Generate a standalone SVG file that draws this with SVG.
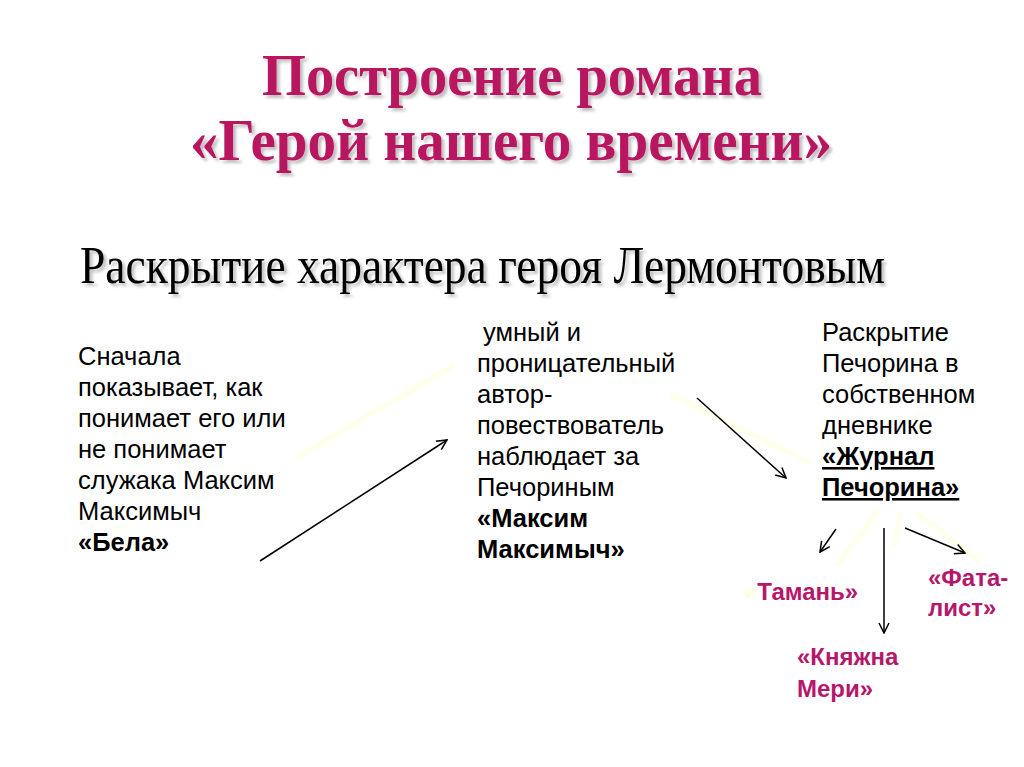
<svg xmlns="http://www.w3.org/2000/svg" width="1024" height="767" viewBox="0 0 1024 767">
<defs>
<marker id="arr" viewBox="0 0 12 12" refX="11" refY="6" markerWidth="12" markerHeight="12" markerUnits="userSpaceOnUse" orient="auto">
<path d="M1,1 L11,6 L1,11" fill="none" stroke="#000" stroke-width="1.5"/>
</marker>
<filter id="sh" x="-5%" y="-20%" width="110%" height="140%">
<feGaussianBlur in="SourceAlpha" stdDeviation="1.5"/>
<feOffset dx="3" dy="3" result="b"/>
<feComponentTransfer><feFuncA type="linear" slope="0.25"/></feComponentTransfer>
<feMerge><feMergeNode/><feMergeNode in="SourceGraphic"/></feMerge>
</filter>
</defs>
<style>
.title{font-family:"Liberation Serif","Times New Roman",serif;font-weight:bold;font-size:59px;fill:#B8145E;text-anchor:middle}
.sub{font-family:"Liberation Serif","Times New Roman",serif;font-size:52px;fill:#000}
.t{font-family:"Liberation Sans",Arial,sans-serif;font-size:25.5px;fill:#000}
.b{font-weight:bold}
.u{text-decoration:underline}
.pk{font-family:"Liberation Sans",Arial,sans-serif;font-size:24px;font-weight:bold;fill:#B5176A}
.c{stroke:#000;stroke-width:1.5;fill:none}
.y{stroke:#FFFFDC;stroke-width:5;fill:none;stroke-linecap:round;opacity:0.6}
</style>
<rect width="1024" height="767" fill="#fff"/>
<g id="title" filter="url(#sh)">
<text class="title" x="512" y="95" textLength="500" lengthAdjust="spacingAndGlyphs">Построение романа</text>
<text class="title" x="511" y="160" textLength="642" lengthAdjust="spacingAndGlyphs">«Герой нашего времени»</text>
</g>
<g id="subtitle" filter="url(#sh)">
<text class="sub" x="80" y="283" textLength="805" lengthAdjust="spacingAndGlyphs">Раскрытие характера героя Лермонтовым</text>
</g>
<g id="connectors">
<line class="y" x1="300" y1="456" x2="452" y2="366"/>
<line class="y" x1="672" y1="395" x2="810" y2="463"/>
<line class="y" x1="877" y1="512" x2="838" y2="564"/>
<line class="y" x1="900" y1="513" x2="895" y2="545"/>
<line class="y" x1="917" y1="513" x2="978" y2="560"/>
<line class="c" x1="260" y1="561" x2="447" y2="440" marker-end="url(#arr)"/>
<line class="c" x1="697" y1="398" x2="786" y2="478" marker-end="url(#arr)"/>
<line class="c" x1="836" y1="529" x2="820" y2="552" marker-end="url(#arr)"/>
<line class="c" x1="884" y1="528" x2="884" y2="633" marker-end="url(#arr)"/>
<line class="c" x1="905" y1="528" x2="965" y2="553" marker-end="url(#arr)"/>
</g>
<g id="bela">
<text class="t" x="78" y="365">Сначала</text>
<text class="t" x="78" y="396">показывает, как</text>
<text class="t" x="78" y="427">понимает его или</text>
<text class="t" x="78" y="458">не понимает</text>
<text class="t" x="78" y="489">служака Максим</text>
<text class="t" x="78" y="520">Максимыч</text>
<text class="t b" x="78" y="551">«Бела»</text>
</g>
<g id="maksim">
<text class="t" x="483" y="341">умный и</text>
<text class="t" x="477" y="372">проницательный</text>
<text class="t" x="477" y="403">автор-</text>
<text class="t" x="477" y="434">повествователь</text>
<text class="t" x="477" y="465">наблюдает за</text>
<text class="t" x="477" y="496">Печориным</text>
<text class="t b" x="477" y="527">«Максим</text>
<text class="t b" x="477" y="558">Максимыч»</text>
</g>
<g id="zhurnal">
<text class="t" x="822" y="341">Раскрытие</text>
<text class="t" x="822" y="372">Печорина в</text>
<text class="t" x="822" y="403">собственном</text>
<text class="t" x="822" y="434">дневнике</text>
<text class="t b u" x="822" y="465">«Журнал</text>
<text class="t b u" x="822" y="496">Печорина»</text>
</g>
<g id="taman">
<text class="pk" x="744" y="600"><tspan fill="#FFFFDC">«</tspan>Тамань»</text>
</g>
<g id="fatalist">
<text class="pk" x="928" y="586">«Фата-</text>
<text class="pk" x="928" y="616">лист»</text>
</g>
<g id="meri">
<text class="pk" x="797" y="665">«Княжна</text>
<text class="pk" x="797" y="697">Мери»</text>
</g>
</svg>
